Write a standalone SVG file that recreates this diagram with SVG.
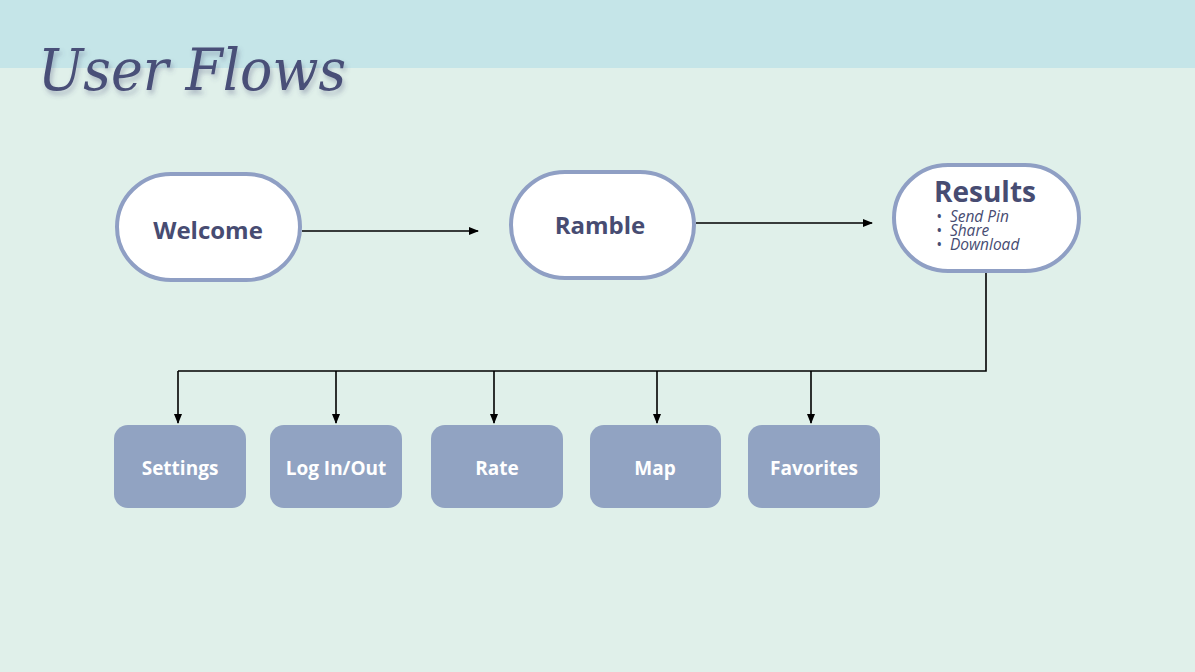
<svg xmlns="http://www.w3.org/2000/svg" width="1195" height="672" viewBox="0 0 1195 672">
<defs>
<marker id="arr" markerWidth="10" markerHeight="8" refX="9" refY="4" orient="auto" markerUnits="userSpaceOnUse">
<path d="M0,0 L10,4 L0,8 Z" fill="#000"/>
</marker>
<filter id="sh" x="-10%" y="-30%" width="120%" height="160%">
<feGaussianBlur in="SourceAlpha" stdDeviation="2.5"/>
<feOffset dx="2" dy="4" result="b"/>
<feFlood flood-color="#4a4f78" flood-opacity="0.35"/>
<feComposite in2="b" operator="in"/>
<feMerge><feMergeNode/><feMergeNode in="SourceGraphic"/></feMerge>
</filter>
</defs>
<style>
.pill{fill:#fff;stroke:#8f9fc4;stroke-width:4}
.box{fill:#91a3c2}
.pt{font-family:"Open Sans","Noto Sans",sans-serif;font-weight:700;fill:#474c72;text-anchor:middle}
.bt{font-family:"Open Sans","Noto Sans",sans-serif;font-weight:700;fill:#fff;font-size:19px;text-anchor:middle}
.it{font-family:"Open Sans","Noto Sans",sans-serif;font-style:italic;fill:#474c72;font-size:15.5px}
.ln{fill:none;stroke:#000;stroke-width:1.6}
</style>
<rect width="1195" height="672" fill="#e0f0ea"/>
<rect width="1195" height="68" fill="#c5e5e8"/>
<text x="38" y="90" font-family="'DejaVu Serif','Liberation Serif',serif" font-style="italic" font-size="58" fill="#4a4f78" filter="url(#sh)" textLength="308" lengthAdjust="spacingAndGlyphs">User Flows</text>

<g id="connectors">
<line class="ln" x1="302" y1="231" x2="478" y2="231" marker-end="url(#arr)"/>
<line class="ln" x1="696" y1="223" x2="872" y2="223" marker-end="url(#arr)"/>
<polyline class="ln" points="986,273 986,371 178,371"/>
<line class="ln" x1="178" y1="371" x2="178" y2="423" marker-end="url(#arr)"/>
<line class="ln" x1="336" y1="371" x2="336" y2="423" marker-end="url(#arr)"/>
<line class="ln" x1="494" y1="371" x2="494" y2="423" marker-end="url(#arr)"/>
<line class="ln" x1="657" y1="371" x2="657" y2="423" marker-end="url(#arr)"/>
<line class="ln" x1="811" y1="371" x2="811" y2="423" marker-end="url(#arr)"/>
</g>

<g id="welcome">
<rect class="pill" x="117" y="174" width="183" height="106" rx="54" ry="53"/>
<text class="pt" x="208" y="239" font-size="24">Welcome</text>
</g>
<g id="ramble">
<rect class="pill" x="511" y="172" width="183" height="106" rx="54" ry="53"/>
<text class="pt" x="600" y="234" font-size="24">Ramble</text>
</g>
<g id="results">
<rect class="pill" x="894" y="165" width="185" height="106" rx="54" ry="53"/>
<text class="pt" x="985" y="202" font-size="28">Results</text>
<text class="it" xml:space="preserve"><tspan x="936" y="222">•  Send Pin</tspan><tspan x="936" y="236">•  Share</tspan><tspan x="936" y="250">•  Download</tspan></text>
</g>

<g id="settings"><rect class="box" x="114" y="425" width="132" height="83" rx="14"/><text class="bt" x="180" y="475">Settings</text></g>
<g id="login"><rect class="box" x="270" y="425" width="132" height="83" rx="14"/><text class="bt" x="336" y="475">Log In/Out</text></g>
<g id="rate"><rect class="box" x="431" y="425" width="132" height="83" rx="14"/><text class="bt" x="497" y="475">Rate</text></g>
<g id="map"><rect class="box" x="590" y="425" width="131" height="83" rx="14"/><text class="bt" x="655" y="475">Map</text></g>
<g id="favorites"><rect class="box" x="748" y="425" width="132" height="83" rx="14"/><text class="bt" x="814" y="475">Favorites</text></g>
</svg>
